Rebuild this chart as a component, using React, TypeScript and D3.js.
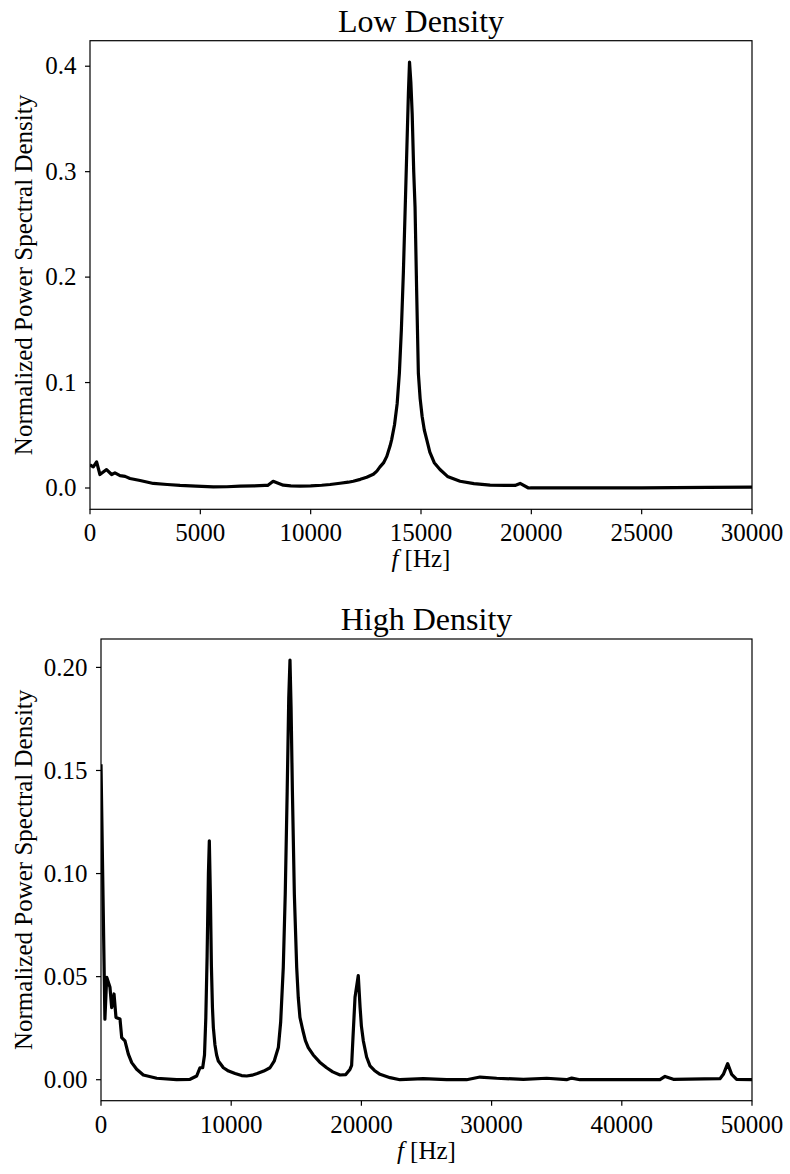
import React from "react";
import * as d3 from "d3";

// Low density spectrum: frequency (Hz) and normalized PSD
const lowFreq = [0, 150, 300, 450, 750, 980, 1130, 1360, 1590, 1810, 2270, 2870, 3500, 4080, 4800, 5590, 6200, 6800, 7400, 7930, 8050, 8300, 8500, 8760, 9100, 9520, 10000, 10500, 10880, 11330, 11700, 11930, 12250, 12540, 12840, 13000, 13140, 13300, 13450, 13600, 13670, 13800, 13920, 14020, 14110, 14200, 14290, 14370, 14430, 14480, 14540, 14600, 14670, 14730, 14800, 14880, 14960, 15050, 15150, 15260, 15400, 15600, 15860, 16200, 16770, 17400, 18130, 18800, 19260, 19490, 19870, 20000, 22000, 25000, 28000, 30000];
const lowPsd = [0.022, 0.020, 0.0248, 0.0128, 0.0175, 0.0128, 0.0144, 0.0118, 0.011, 0.009, 0.0071, 0.0043, 0.0033, 0.0024, 0.0017, 0.0011, 0.0012, 0.0017, 0.0020, 0.0024, 0.0024, 0.0064, 0.0048, 0.0027, 0.0020, 0.0017, 0.0020, 0.0026, 0.0033, 0.0045, 0.0055, 0.0064, 0.0082, 0.0102, 0.013, 0.016, 0.020, 0.0238, 0.030, 0.040, 0.0459, 0.060, 0.080, 0.109, 0.150, 0.2036, 0.270, 0.330, 0.375, 0.404, 0.385, 0.355, 0.300, 0.2666, 0.190, 0.109, 0.085, 0.068, 0.055, 0.0459, 0.034, 0.024, 0.0175, 0.011, 0.0064, 0.0042, 0.0027, 0.0025, 0.0024, 0.0043, 0.0, 0.0002, 0.0002, 0.0002, 0.0005, 0.0008];

// High density spectrum
const highFreq = [0, 300, 440, 690, 820, 1000, 1150, 1460, 1590, 1840, 2100, 2360, 2740, 3250, 4280, 5810, 6840, 7350, 7600, 7810, 7950, 8050, 8150, 8250, 8320, 8400, 8480, 8560, 8630, 8750, 8880, 9010, 9200, 9400, 9800, 10300, 10800, 11190, 11600, 12000, 12500, 12980, 13300, 13620, 13800, 14000, 14150, 14300, 14420, 14515, 14600, 14700, 14850, 15030, 15150, 15280, 15500, 15700, 15920, 16300, 16800, 17330, 17800, 18360, 18800, 19120, 19250, 19350, 19510, 19760, 19900, 20000, 20150, 20400, 20660, 21000, 21430, 22200, 22960, 24760, 26550, 28080, 29110, 30390, 32440, 34230, 35760, 36150, 36790, 42930, 43320, 43960, 47540, 47800, 48130, 48440, 48820, 50000];
const highPsd = [0.153, 0.0294, 0.0497, 0.0448, 0.035, 0.0416, 0.0302, 0.0294, 0.0204, 0.0188, 0.0124, 0.0083, 0.0051, 0.0023, 0.0007, 0.0, 0.0002, 0.0018, 0.0058, 0.0058, 0.012, 0.030, 0.060, 0.100, 0.1159, 0.090, 0.055, 0.035, 0.0253, 0.017, 0.012, 0.0091, 0.0075, 0.0058, 0.0042, 0.003, 0.002, 0.0018, 0.0022, 0.003, 0.0042, 0.0058, 0.009, 0.0156, 0.028, 0.0545, 0.090, 0.140, 0.185, 0.2036, 0.180, 0.140, 0.090, 0.0545, 0.040, 0.0302, 0.024, 0.019, 0.0156, 0.012, 0.0085, 0.0058, 0.0038, 0.0023, 0.0025, 0.005, 0.007, 0.020, 0.040, 0.0505, 0.035, 0.026, 0.0188, 0.011, 0.0067, 0.0045, 0.0026, 0.001, 0.0, 0.0005, 0.0, 0.0, 0.0013, 0.0007, 0.0002, 0.0007, 0.0, 0.0008, 0.0, 0.0, 0.0016, 0.0002, 0.0005, 0.0026, 0.0078, 0.0026, 0.0002, 0.0];

const lowXTicks = [0, 5000, 10000, 15000, 20000, 25000, 30000];
const lowYTicks = [0.0, 0.1, 0.2, 0.3, 0.4];
const highXTicks = [0, 10000, 20000, 30000, 40000, 50000];
const highYTicks = [0.0, 0.05, 0.1, 0.15, 0.2];

const FONT = "'Liberation Serif', 'DejaVu Serif', serif";

type PanelProps = {
  title: string;
  freq: number[];
  psd: number[];
  xMax: number;
  xTicks: number[];
  yTicks: number[];
  yFmt: string;
  left: number;
  right: number;
  top: number;
  bottom: number;
};

function Panel(p: PanelProps) {
  const x = d3.scaleLinear().domain([0, p.xMax]).range([p.left, p.right]);
  const lo = d3.min(p.psd) as number;
  const hi = d3.max(p.psd) as number;
  const m = (hi - lo) * 0.05;
  const y = d3.scaleLinear().domain([lo - m, hi + m]).range([p.bottom, p.top]);
  const pts = p.freq.map((f, i) => [f, p.psd[i]] as [number, number]);
  const line = d3
    .line<[number, number]>()
    .x((d) => x(d[0]))
    .y((d) => y(d[1]));
  const fmt = d3.format(p.yFmt);
  const cx = (p.left + p.right) / 2;
  const cy = (p.top + p.bottom) / 2;
  const clipId = "clip-" + p.title.replace(/\s/g, "");
  return (
    <g>
      <defs>
        <clipPath id={clipId}>
          <rect x={p.left} y={p.top} width={p.right - p.left} height={p.bottom - p.top} />
        </clipPath>
      </defs>
      <path
        d={line(pts) || ""}
        fill="none"
        stroke="#000"
        strokeWidth={3.2}
        strokeLinejoin="round"
        clipPath={`url(#${clipId})`}
      />
      <rect
        x={p.left}
        y={p.top}
        width={p.right - p.left}
        height={p.bottom - p.top}
        fill="none"
        stroke="#000"
        strokeWidth={1.2}
      />
      {p.xTicks.map((t) => (
        <g key={"x" + t}>
          <line x1={x(t)} x2={x(t)} y1={p.bottom} y2={p.bottom + 5} stroke="#000" strokeWidth={1.2} />
          <text x={x(t)} y={p.bottom + 32} textAnchor="middle" fontSize={25} fontFamily={FONT}>
            {t}
          </text>
        </g>
      ))}
      {p.yTicks.map((t) => (
        <g key={"y" + t}>
          <line x1={p.left - 5} x2={p.left} y1={y(t)} y2={y(t)} stroke="#000" strokeWidth={1.2} />
          <text x={p.left - 13.5} y={y(t)} dy="0.33em" textAnchor="end" fontSize={25} fontFamily={FONT}>
            {fmt(t)}
          </text>
        </g>
      ))}
      <text x={cx} y={p.top - 9} textAnchor="middle" fontSize={32} fontFamily={FONT}>
        {p.title}
      </text>
      <text x={cx} y={p.bottom + 58} textAnchor="middle" fontSize={25} fontFamily={FONT}>
        <tspan fontStyle="italic">f</tspan>
        <tspan dx={6}>[Hz]</tspan>
      </text>
      <text
        transform={`translate(32,${cy}) rotate(-90)`}
        textAnchor="middle"
        fontSize={25}
        fontFamily={FONT}
      >
        Normalized Power Spectral Density
      </text>
    </g>
  );
}

export default function App() {
  return (
    <svg
      width={790}
      height={1174}
      style={{ position: "absolute", left: 0, top: 0, background: "#fff" }}
    >
      <rect width={790} height={1174} fill="#fff" />
      <Panel
        title="Low Density"
        freq={lowFreq}
        psd={lowPsd}
        xMax={30000}
        xTicks={lowXTicks}
        yTicks={lowYTicks}
        yFmt=".1f"
        left={90}
        right={752}
        top={40.7}
        bottom={509.3}
      />
      <Panel
        title="High Density"
        freq={highFreq}
        psd={highPsd}
        xMax={50000}
        xTicks={highXTicks}
        yTicks={highYTicks}
        yFmt=".2f"
        left={101}
        right={752}
        top={639}
        bottom={1100.7}
      />
    </svg>
  );
}
